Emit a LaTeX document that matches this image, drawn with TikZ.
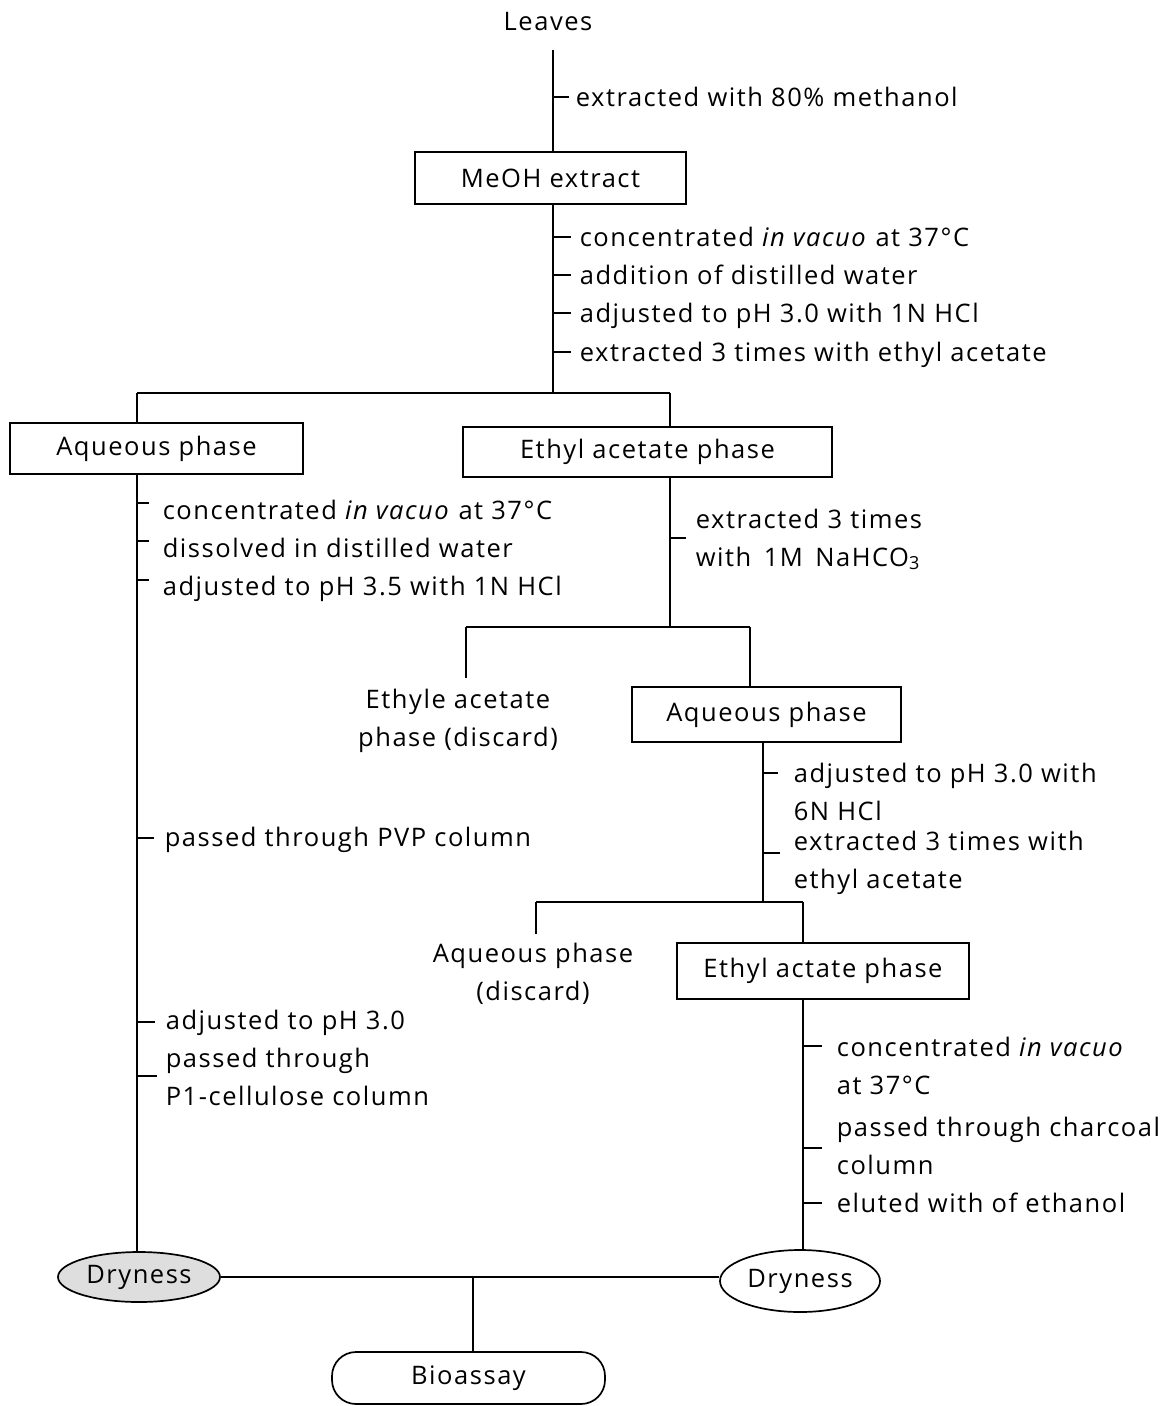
\documentclass[tikz,border=0pt]{standalone}
\usepackage{fontspec}
\setmainfont{Open Sans}[LetterSpace=6]
\usetikzlibrary{shapes.geometric}
\begin{document}
\begin{tikzpicture}[x=1pt,y=-1pt,line width=1.7pt,
  every node/.style={font=\fontsize{25.5}{38}\selectfont, inner sep=0pt},
  lbl/.style={anchor=base west, align=left},
  box/.style={draw, rectangle, line width=1.7pt},
  oval/.style={draw, ellipse, line width=1.7pt},
  tick/.style={line width=1.5pt}
]
\useasboundingbox (0,0) rectangle (1168,1406);

% ---- top ----
\node[anchor=base] (leaves) at (548,30) {Leaves};
\coordinate (top) at (553,50);
\node[box, minimum width=271, minimum height=52] (meoh) at (550.5,178) {MeOH extract};
\draw (top) -- (top |- meoh.north);
\draw[tick] (553,97) -- ++(16,0);
\node[lbl] (l1) at (575,106) {extracted with 80\% methanol};

% ---- after MeOH ----
\coordinate (s1) at (553,393);
\draw (meoh.south -| top) -- (s1);
\draw[tick] (553,237) -- ++(18,0);
\draw[tick] (553,275) -- ++(18,0);
\draw[tick] (553,313) -- ++(18,0);
\draw[tick] (553,352) -- ++(18,0);
\node[lbl] (l2) at (579,246) {concentrated \textit{in vacuo} at 37°C};
\node[lbl] (l3) at (579,284) {addition of distilled water};
\node[lbl] (l4) at (579,322) {adjusted to pH 3.0 with 1N HCl};
\node[lbl] (l5) at (579,361) {extracted 3 times with ethyl acetate};

\coordinate (sL) at (137,393);
\coordinate (sR) at (670,393);
\draw (sL) -- (sR);
\node[box, minimum width=293, minimum height=51] (aq1) at (156.5,448.5) {Aqueous phase};
\node[box, minimum width=369, minimum height=50] (ea1) at (647.5,452) {Ethyl acetate phase};
\draw (sL) -- (sL |- aq1.north);
\draw (sR) -- (sR |- ea1.north);

% ---- left branch ----
\node[oval, fill=black!13, minimum width=162, minimum height=50] (dry1) at (139,1277) {Dryness};
\draw (sL |- aq1.south) -- (sL |- dry1.north);
\draw[tick] (137,503) -- ++(12,0);
\draw[tick] (137,541) -- ++(12,0);
\draw[tick] (137,580) -- ++(12,0);
\node[lbl] (a1) at (162,519) {concentrated \textit{in vacuo} at 37°C};
\node[lbl] (a2) at (162,557) {dissolved in distilled water};
\node[lbl] (a3) at (162,595) {adjusted to pH 3.5 with 1N HCl};
\draw[tick] (137,838) -- ++(17,0);
\node[lbl] (a4) at (164,846) {passed through PVP column};
\draw[tick] (137,1022) -- ++(18,0);
\draw[tick] (137,1076) -- ++(20,0);
\node[lbl] (a5) at (165,1105) {adjusted to pH 3.0\\passed through\\P1-cellulose column};

% ---- ethyl acetate branch ----
\coordinate (s2) at (670,627);
\coordinate (s2L) at (466,627);
\coordinate (s2R) at (750,627);
\draw (sR |- ea1.south) -- (s2);
\draw[tick] (670,538) -- ++(16,0);
\node[lbl] (e1) at (695,566) {extracted 3 times\\with\, 1M\, NaHCO\raisebox{-3pt}{\fontsize{18}{18}\selectfont 3}};
\draw (s2L) -- (s2R);
\node[align=center, inner ysep=10pt] (disc1) at (458,720.5) {Ethyle acetate\\phase (discard)};
\draw (s2L) -- (s2L |- disc1.north);
\node[box, minimum width=269, minimum height=55] (aq2) at (766.5,714.5) {Aqueous phase};
\draw (s2R) -- (s2R |- aq2.north);

% ---- aqueous phase 2 branch ----
\coordinate (s3) at (763,902);
\coordinate (s3L) at (536,902);
\coordinate (s3R) at (803,902);
\draw (s3 |- aq2.south) -- (s3);
\draw[tick] (763,773) -- ++(15,0);
\draw[tick] (763,853) -- ++(17,0);
\node[lbl] (b1) at (793,820) {adjusted to pH 3.0 with\\6N HCl};
\node[lbl] (b2) at (793,888) {extracted 3 times with\\ethyl acetate};
\draw (s3L) -- (s3R);
\node[align=center, inner ysep=8pt] (disc2) at (533,973.5) {Aqueous phase\\(discard)};
\draw (s3L) -- (s3L |- disc2.north);
\node[box, minimum width=292, minimum height=56] (ea2) at (823,971) {Ethyl actate phase};
\draw (s3R) -- (s3R |- ea2.north);

% ---- final ethyl acetate branch ----
\node[oval, minimum width=160, minimum height=62] (dry2) at (800,1281) {Dryness};
\draw (s3R |- ea2.south) -- (s3R |- dry2.north);
\draw[tick] (803,1046) -- ++(19,0);
\draw[tick] (803,1148) -- ++(19,0);
\draw[tick] (803,1203) -- ++(19,0);
\node[lbl] (c1) at (836,1094) {concentrated \textit{in vacuo}\\at 37°C};
\node[lbl] (c2) at (836,1174) {passed through charcoal\\column};
\node[lbl] (c3) at (836,1212) {eluted with of ethanol};

% ---- bottom ----
\node[draw, rectangle, rounded corners=24pt, line width=1.7pt, minimum width=273, minimum height=52] (bio) at (468.5,1378) {Bioassay};
\coordinate (j) at (473,1277);
\draw (dry1.east) -- (dry1.east -| dry2.west);
\draw (j) -- (j |- bio.north);
\end{tikzpicture}
\end{document}
